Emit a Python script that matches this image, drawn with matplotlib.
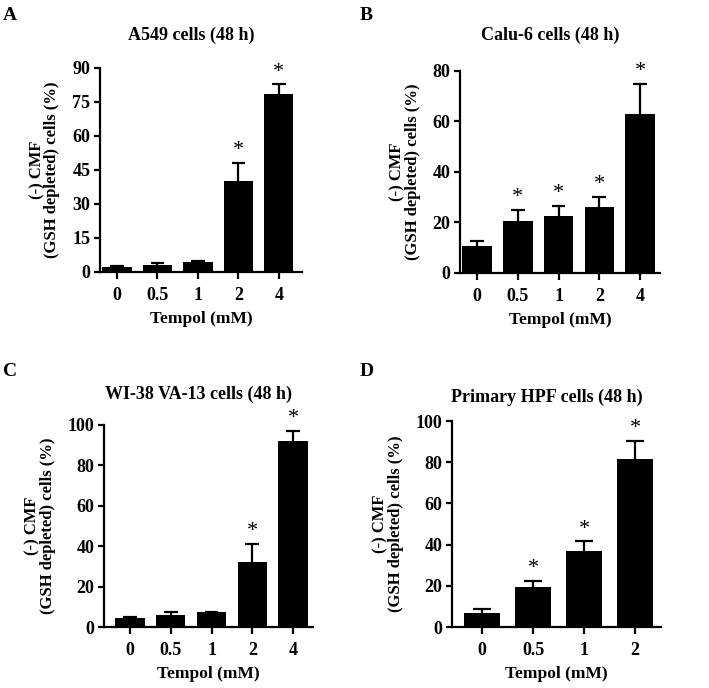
import matplotlib
matplotlib.use("Agg")
import matplotlib.pyplot as plt
import numpy as np

plt.rcParams["font.family"] = ["Liberation Serif", "DejaVu Serif"]
plt.rcParams["font.weight"] = "bold"

W, H = 709, 688

doses_abc = ["0", "0.5", "1", "2", "4"]
doses_d = ["0", "0.5", "1", "2"]

a549_mean = [2.2, 3.3, 4.2, 40.3, 78.5]
a549_err = [0.5, 0.5, 0.6, 7.8, 4.3]
a549_sig = [False, False, False, True, True]

calu6_mean = [10.8, 20.6, 22.5, 26.0, 63.0]
calu6_err = [2.0, 4.4, 4.0, 4.0, 12.0]
calu6_sig = [False, True, True, True, True]

wi38_mean = [4.6, 5.8, 7.3, 32.0, 92.3]
wi38_err = [0.4, 1.6, 0.3, 9.0, 4.6]
wi38_sig = [False, False, False, True, True]

hpf_mean = [7.0, 19.3, 36.8, 81.5]
hpf_err = [1.6, 3.2, 4.8, 8.7]
hpf_sig = [False, True, True, True]

fig = plt.figure(figsize=(W / 100, H / 100), dpi=100)


def panel(box, letter, letter_xy, title, title_y, labels, mean, err, sig, ymax, ystep, xlim):
    x0, y0, x1, y1 = box  # pixel box of the plot area
    ax = fig.add_axes([x0 / W, 1 - y1 / H, (x1 - x0) / W, (y1 - y0) / H])
    xs = np.arange(len(labels))
    mean = np.array(mean)
    tops = mean + np.array(err)
    # upper-only error bars with caps
    ax.vlines(xs, mean, tops, color="black", linewidth=1.6, zorder=1)
    ax.hlines(tops, xs - 0.17, xs + 0.17, color="black", linewidth=1.6, zorder=1)
    ax.bar(xs, mean, width=0.72, color="black", zorder=2)
    for x, t, s in zip(xs, tops, sig):
        if s:
            ax.annotate("*", (x, t), xytext=(0, 2), textcoords="offset points",
                        ha="center", va="bottom", fontsize=16, fontweight="normal")
    ax.set_xlim(*xlim)
    ax.set_ylim(0, ymax)
    ax.set_yticks(range(0, ymax + 1, ystep))
    ax.set_xticks(xs)
    ax.set_xticklabels(labels)
    for side in ("top", "right"):
        ax.spines[side].set_visible(False)
    for side in ("left", "bottom"):
        ax.spines[side].set_linewidth(1.6)
    ax.tick_params(axis="both", width=1.6, labelsize=13)
    ax.tick_params(axis="x", length=5, pad=6)
    ax.tick_params(axis="y", length=4, pad=3)
    ax.set_xlabel("Tempol (mM)", fontsize=12.5, fontweight="bold", labelpad=5)
    ax.set_ylabel("(-) CMF\n(GSH depleted) cells (%)", fontsize=12, fontweight="bold",
                  linespacing=0.95, labelpad=8.5)
    fig.text(((x0 + x1) / 2 - 10) / W, 1 - title_y / H, title, ha="center", va="center",
             fontsize=13, fontweight="bold")
    fig.text(letter_xy[0] / W, 1 - letter_xy[1] / H, letter, ha="left", va="center",
             fontsize=14, fontweight="bold")
    return ax


panel((100, 68, 302, 272), "A", (3, 15), "A549 cells (48 h)", 35,
      doses_abc, a549_mean, a549_err, a549_sig, 90, 15, (-0.42, 4.57))
panel((460, 71, 660, 273), "B", (360, 15), "Calu-6 cells (48 h)", 35,
      doses_abc, calu6_mean, calu6_err, calu6_sig, 80, 20, (-0.42, 4.49))
panel((104, 425, 313, 627), "C", (3, 371), "WI-38 VA-13 cells (48 h)", 394,
      doses_abc, wi38_mean, wi38_err, wi38_sig, 100, 20, (-0.64, 4.49))
panel((452, 421, 661, 627), "D", (360, 371), "Primary HPF cells (48 h)", 397,
      doses_d, hpf_mean, hpf_err, hpf_sig, 100, 20, (-0.59, 3.51))

fig.savefig("out.png", dpi=100)
